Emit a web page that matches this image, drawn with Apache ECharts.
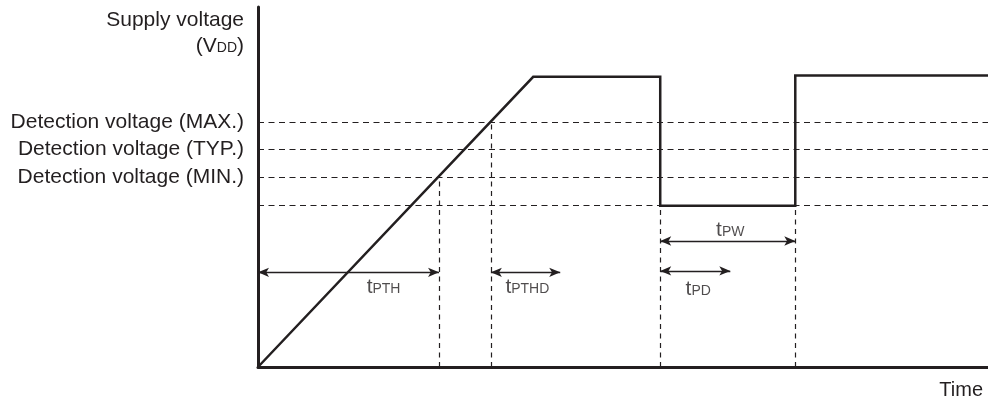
<!DOCTYPE html>
<html>
<head>
<meta charset="utf-8">
<script src="https://cdn.jsdelivr.net/npm/echarts@6/dist/echarts.min.js"></script>
<style>
  html, body { margin: 0; padding: 0; background: #fff; }
  #chart { width: 988px; height: 403px; }
</style>
</head>
<body>
<div id="chart"></div>
<script>
// supply voltage waveform (time, voltage), arbitrary units
const signalTime = [0, 37.7, 55.1, 55.1, 73.6, 73.6, 100];
const signalVolt = [0, 8.06, 8.06, 4.48, 4.48, 8.1, 8.1];

// detection levels (last one is the low level of the dip, no label)
const levelNames = ['Detection voltage (MAX.)', 'Detection voltage (TYP.)', 'Detection voltage (MIN.)', ''];
const levelValues = [6.81, 6.04, 5.26, 4.48];

// vertical dashed guides: time and where they start
const guideTime = [24.8, 31.9, 55.1, 73.6];
const guideTop = [5.26, 6.81, 4.48, 4.48];

// timing arrows
const arrowNames = ['PTH', 'PTHD', 'PW', 'PD'];
const arrowStart = [0, 31.9, 55.1, 55.1];
const arrowEnd = [24.8, 41.4, 73.6, 64.7];
const arrowVolt = [2.63, 2.63, 3.5, 2.67];
const labelTime = [17.2, 36.9, 64.7, 60.3];
const labelVolt = [2.22, 2.22, 3.81, 2.17];

const ink = '#231f20';
const font = "'Liberation Sans', Arial, sans-serif";

const chart = echarts.init(document.getElementById('chart'));

const option = {
    animation: false,
    grid: { left: 258, right: 0, top: 7, bottom: 36, outerBoundsMode: 'none' },
    xAxis: {
        type: 'value', min: 0, max: 100,
        axisLine: { lineStyle: { color: ink, width: 3 } },
        axisTick: { show: false },
        axisLabel: { show: false },
        splitLine: { show: false },
        name: 'Time',
        nameLocation: 'end',
        nameGap: -5,
        nameTextStyle: {
            fontFamily: font, fontSize: 20, color: ink,
            align: 'right', verticalAlign: 'top', padding: [13, 0, 0, 0]
        }
    },
    yAxis: {
        type: 'value', min: 0, max: 10,
        axisLine: { lineStyle: { color: ink, width: 3 } },
        axisTick: { show: false },
        splitLine: { show: false },
        axisLabel: {
            customValues: levelValues.slice(0, 3),
            margin: 14,
            fontFamily: font, fontSize: 21, color: ink,
            formatter: (v) => {
                const i = levelValues.findIndex(x => Math.abs(x - v) < 1e-6);
                return i >= 0 ? levelNames[i] : '';
            }
        },
        name: 'Supply voltage\n(V{sub|DD})',
        nameLocation: 'end',
        nameGap: 0,
        nameTextStyle: {
            fontFamily: font, fontSize: 21, color: ink, lineHeight: 26,
            align: 'right', verticalAlign: 'top', padding: [0, 14, 0, 0],
            rich: {
                sub: { fontFamily: font, fontSize: 14, color: ink, lineHeight: 26, padding: [4, 0, 0, 0] }
            }
        }
    },
    series: [
        {
            name: 'VDD',
            type: 'line',
            data: signalTime.map((t, i) => [t, signalVolt[i]]),
            symbol: 'none',
            clip: false,
            lineStyle: { color: ink, width: 2.5, join: 'miter' },
            z: 5
        },
        {
            name: 'levels',
            type: 'line',
            data: [],
            markLine: {
                silent: true,
                symbol: ['none', 'none'],
                label: { show: false },
                lineStyle: { color: ink, width: 1.2, type: [6, 4.5] },
                data: levelValues.map(v => ({ yAxis: v }))
            }
        },
        {
            name: 'guides',
            type: 'line',
            data: [],
            markLine: {
                silent: true,
                symbol: ['none', 'none'],
                label: { show: false },
                lineStyle: { color: ink, width: 1.2, type: [5, 4.5] },
                data: guideTime.map((t, i) => [{ coord: [t, 0] }, { coord: [t, guideTop[i]] }])
            }
        },
        {
            name: 'timing',
            type: 'line',
            data: [],
            markLine: {
                silent: true,
                symbol: ['arrow', 'arrow'],
                symbolSize: [7, 11],
                label: { show: false },
                lineStyle: { color: ink, width: 1.3, type: 'solid' },
                itemStyle: { color: ink },
                data: arrowNames.map((n, i) => [
                    { coord: [arrowStart[i], arrowVolt[i]] },
                    { coord: [arrowEnd[i], arrowVolt[i]] }
                ])
            }
        },
        {
            name: 'timing labels',
            type: 'scatter',
            symbolSize: 0,
            data: arrowNames.map((n, i) => ({ name: n, value: [labelTime[i], labelVolt[i]] })),
            label: {
                show: true,
                position: 'inside',
                formatter: (p) => 't{sub|' + p.name + '}',
                fontFamily: font, fontSize: 21, color: ink, lineHeight: 22,
                rich: {
                    sub: { fontFamily: font, fontSize: 14, color: ink, lineHeight: 22, padding: [4, 0, 0, 0] }
                }
            }
        }
    ]
};

chart.setOption(option);
</script>
</body>
</html>
